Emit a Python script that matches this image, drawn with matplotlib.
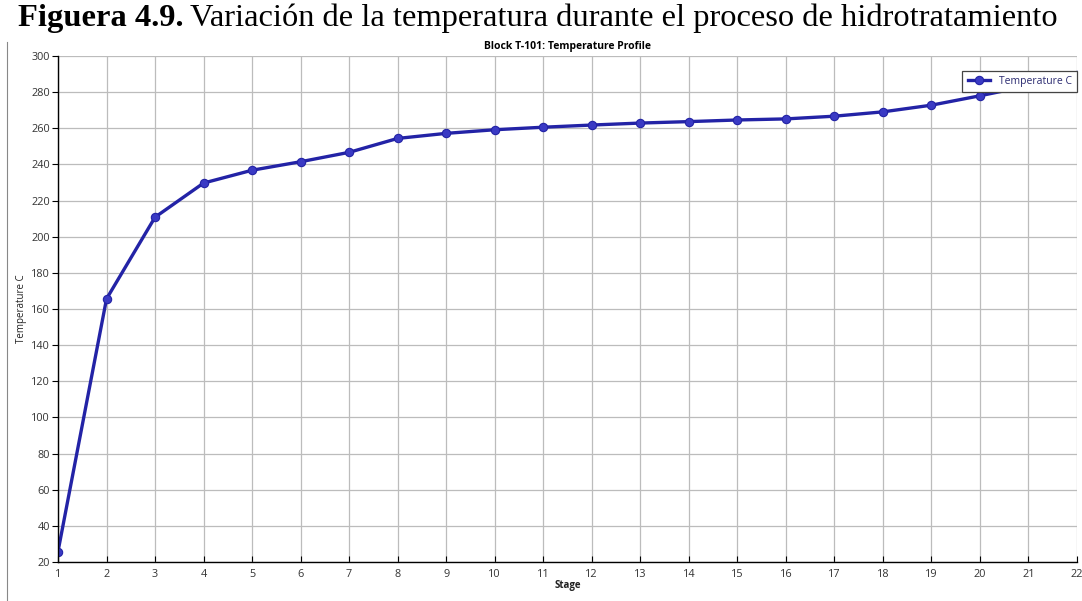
import matplotlib.pyplot as plt
from matplotlib.lines import Line2D

# ── data ──────────────────────────────────────────────────────────────────────
stages = list(range(1, 23))
temperature_c = [25.8, 165.6, 210.8, 229.7, 236.8, 241.5, 246.7, 254.4, 257.2,
                 259.2, 260.6, 261.8, 262.9, 263.7, 264.6, 265.2, 266.7, 269.1,
                 272.8, 278.0, 283.5, 289.3]
y_ticks = list(range(20, 301, 20))

LINE = "#2323a6"
MARK = "#3a3ac4"
TICK_FONT = "Open Sans"

fig = plt.figure(figsize=(10.82, 6.01), dpi=100)
ax = fig.add_axes([0.0536, 0.0649, 0.9418, 0.8419])

ax.plot(stages, temperature_c, color=LINE, linewidth=2.4, marker="o",
        markersize=6, markerfacecolor=MARK, markeredgecolor=LINE,
        markeredgewidth=0.8, label="Temperature C")

ax.set_xlim(1, 22)
ax.set_ylim(20, 300)
ax.set_xticks(stages)
ax.set_yticks(y_ticks)
ax.grid(True, color="#bcbcbc", linewidth=0.9)
ax.set_axisbelow(True)

for s in ["top", "right"]:
    ax.spines[s].set_visible(False)
for s in ["left", "bottom"]:
    ax.spines[s].set_color("black")
    ax.spines[s].set_linewidth(1.0)

ax.tick_params(axis="x", direction="in", length=4, width=0.8, pad=5,
               labelsize=7.8, labelcolor="#333333")
ax.tick_params(axis="y", direction="out", length=4, width=0.8, pad=2,
               labelsize=7.8, labelcolor="#333333")
for lab in ax.get_xticklabels() + ax.get_yticklabels():
    lab.set_family(TICK_FONT)

ax.set_xlabel("Stage", fontsize=7, fontweight="bold", family=TICK_FONT,
              labelpad=0, color="#222222")
ax.set_ylabel("Temperature C", fontsize=7, family=TICK_FONT, labelpad=3,
              color="#222222")

leg = ax.legend(loc="upper right", bbox_to_anchor=(1.0, 0.971),
                borderaxespad=0, fancybox=False, framealpha=1,
                edgecolor="#444444", handlelength=2.2, borderpad=0.5,
                prop={"family": TICK_FONT, "size": 7.5})
leg.get_frame().set_linewidth(0.9)
for t in leg.get_texts():
    t.set_color("#2a2a70")

ax.set_title("Block T-101: Temperature Profile", fontsize=7.5,
             fontweight="bold", family=TICK_FONT, pad=5)

# figure caption: bold part + regular part in Times-like serif
cap_y = 0.97
bold = fig.text(0.017, cap_y, "Figuera 4.9.", family="Liberation Serif",
                fontweight="bold", fontsize=23.4, va="center", ha="left")
fig.canvas.draw()
bb = bold.get_window_extent(fig.canvas.get_renderer())
x_next = (bb.x1 + 6) / fig.bbox.width
fig.text(x_next, cap_y,
         "Variación de la temperatura durante el proceso de hidrotratamiento",
         family="Liberation Serif", fontsize=23.4, va="center", ha="left")

# thin page border line on the left
fig.add_artist(Line2D([0.0065, 0.0065], [0.0, 0.93], color="#888888",
                      linewidth=0.8))

plt.savefig("out.png", dpi=100)
